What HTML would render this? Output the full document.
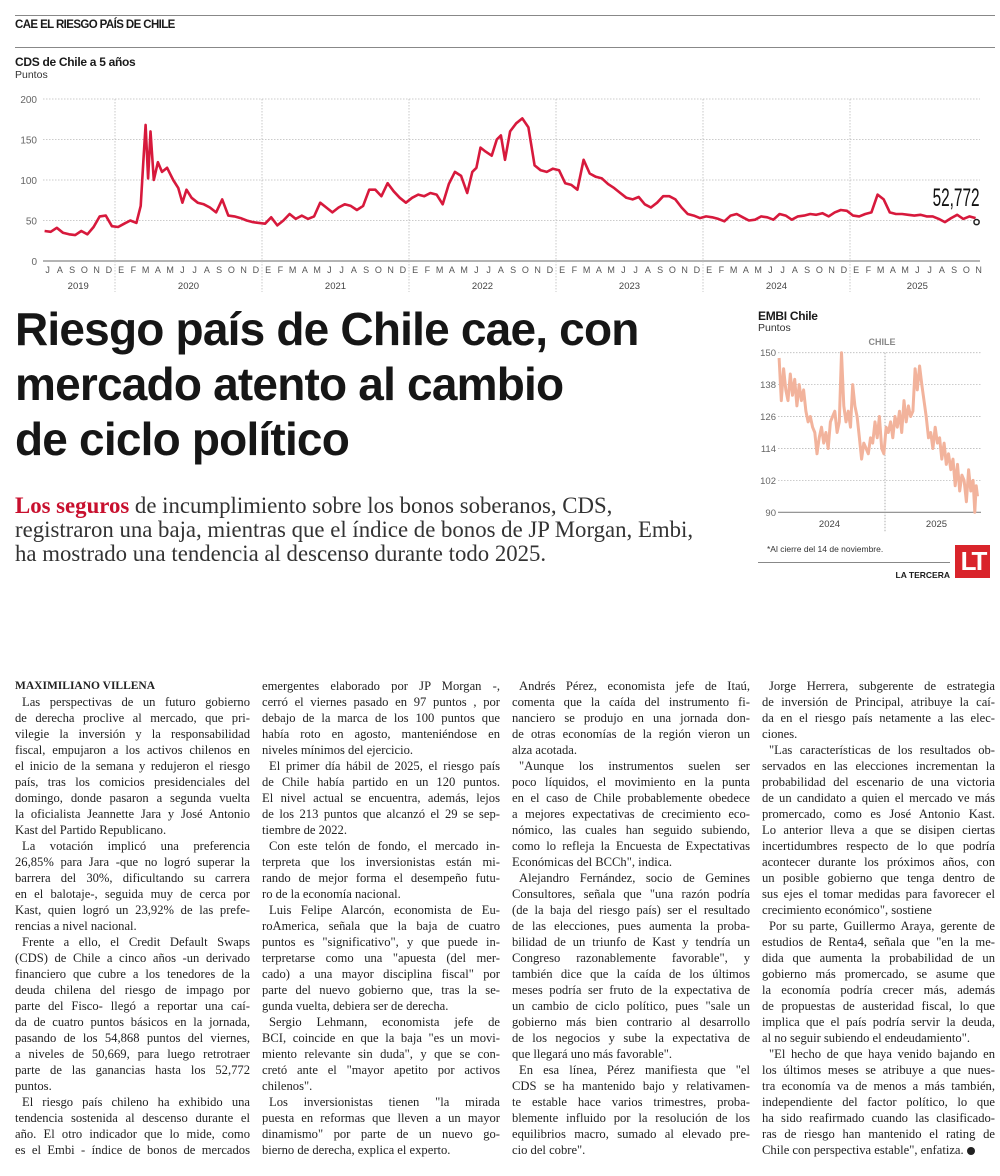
<!DOCTYPE html>
<html><head><meta charset="utf-8">
<style>
body{margin:0;background:#fff;}
#page{position:relative;width:1000px;height:1176px;overflow:hidden;background:#fff;font-family:"Liberation Sans",sans-serif;color:#1a1a1a;}
.abs{position:absolute;}
.col{position:absolute;top:678px;font-family:"Liberation Serif",serif;font-size:12.6px;line-height:16px;color:#222;}
.col div{white-space:nowrap;text-align:justify;text-align-last:justify;}
.col div.e{text-align-last:left;}
.col div.i{text-indent:7px;}
</style></head><body>
<div id="page">
<div class="abs" style="left:15px;top:15px;width:980px;border-top:1px solid #888;"></div>
<div class="abs" style="left:15px;top:19px;font-size:11.5px;font-weight:bold;letter-spacing:-0.6px;">CAE EL RIESGO PAÍS DE CHILE</div>
<div class="abs" style="left:15px;top:47px;width:980px;border-top:1px solid #888;"></div>
<div class="abs" style="left:15px;top:55px;font-size:12px;font-weight:bold;letter-spacing:-0.3px;">CDS de Chile a 5 años</div>
<div class="abs" style="left:15px;top:69px;font-size:10.5px;color:#333;">Puntos</div>

<svg class="abs" id="cds" style="left:0;top:0" width="1000" height="300"></svg>

<div class="abs" style="left:15px;top:302px;font-size:46px;line-height:55px;font-weight:bold;letter-spacing:-0.8px;transform:scaleX(1.0);transform-origin:0 0;white-space:nowrap;color:#161616;">Riesgo país de Chile cae, con<br>mercado atento al cambio<br>de ciclo político</div>

<div class="abs" style="left:15px;top:494px;width:700px;font-family:'Liberation Serif',serif;font-size:22.8px;line-height:24px;color:#333;white-space:nowrap;"><b style="color:#c8102e">Los seguros</b> de incumplimiento sobre los bonos soberanos, CDS,<br>registraron una baja, mientras que el índice de bonos de JP Morgan, Embi,<br>ha mostrado una tendencia al descenso durante todo 2025.</div>

<div class="abs" style="left:758px;top:309px;font-size:12px;font-weight:bold;letter-spacing:-0.3px;">EMBI Chile</div>
<div class="abs" style="left:758px;top:322px;font-size:10.5px;color:#333;">Puntos</div>
<svg class="abs" id="embi" style="left:0;top:0" width="1000" height="600"></svg>
<div class="abs" style="left:767px;top:544px;font-size:8.5px;color:#333;">*Al cierre del 14 de noviembre.</div>
<div class="abs" style="left:758px;top:562px;width:192px;border-top:1px solid #888;"></div>
<div class="abs" style="left:870px;top:570px;width:80px;text-align:right;font-size:8.5px;font-weight:bold;">LA TERCERA</div>
<div class="abs" style="left:955px;top:545px;width:35px;height:33px;background:#d9242b;color:#fff;font-size:26px;font-weight:bold;line-height:33px;text-align:center;letter-spacing:-3px;">LT</div>

<div class="col" style="left:15px;width:235px;">
<div class="e" style="font-weight:bold;font-size:11.5px;">MAXIMILIANO VILLENA</div>
<div class="i">Las perspectivas de un futuro gobierno</div>
<div>de derecha proclive al mercado, que pri-</div>
<div>vilegie la inversión y la responsabilidad</div>
<div>fiscal, empujaron a los activos chilenos en</div>
<div>el inicio de la semana y redujeron el riesgo</div>
<div>país, tras los comicios presidenciales del</div>
<div>domingo, donde pasaron a segunda vuelta</div>
<div>la oficialista Jeannette Jara y José Antonio</div>
<div class="e">Kast del Partido Republicano.</div>
<div class="i">La votación implicó una preferencia</div>
<div>26,85% para Jara -que no logró superar la</div>
<div>barrera del 30%, dificultando su carrera</div>
<div>en el balotaje-, seguida muy de cerca por</div>
<div>Kast, quien logró un 23,92% de las prefe-</div>
<div class="e">rencias a nivel nacional.</div>
<div class="i">Frente a ello, el Credit Default Swaps</div>
<div>(CDS) de Chile a cinco años -un derivado</div>
<div>financiero que cubre a los tenedores de la</div>
<div>deuda chilena del riesgo de impago por</div>
<div>parte del Fisco- llegó a reportar una caí-</div>
<div>da de cuatro puntos básicos en la jornada,</div>
<div>pasando de los 54,868 puntos del viernes,</div>
<div>a niveles de 50,669, para luego retrotraer</div>
<div>parte de las ganancias hasta los 52,772</div>
<div class="e">puntos.</div>
<div class="i">El riesgo país chileno ha exhibido una</div>
<div>tendencia sostenida al descenso durante el</div>
<div>año. El otro indicador que lo mide, como</div>
<div>es el Embi - índice de bonos de mercados</div>
</div>

<div class="col" style="left:262px;width:238px;">
<div>emergentes elaborado por JP Morgan -,</div>
<div>cerró el viernes pasado en 97 puntos , por</div>
<div>debajo de la marca de los 100 puntos que</div>
<div>había roto en agosto, manteniéndose en</div>
<div class="e">niveles mínimos del ejercicio.</div>
<div class="i">El primer día hábil de 2025, el riesgo país</div>
<div>de Chile había partido en un 120 puntos.</div>
<div>El nivel actual se encuentra, además, lejos</div>
<div>de los 213 puntos que alcanzó el 29 se sep-</div>
<div class="e">tiembre de 2022.</div>
<div class="i">Con este telón de fondo, el mercado in-</div>
<div>terpreta que los inversionistas están mi-</div>
<div>rando de mejor forma el desempeño futu-</div>
<div class="e">ro de la economía nacional.</div>
<div class="i">Luis Felipe Alarcón, economista de Eu-</div>
<div>roAmerica, señala que la baja de cuatro</div>
<div>puntos es "significativo", y que puede in-</div>
<div>terpretarse como una "apuesta (del mer-</div>
<div>cado) a una mayor disciplina fiscal" por</div>
<div>parte del nuevo gobierno que, tras la se-</div>
<div class="e">gunda vuelta, debiera ser de derecha.</div>
<div class="i">Sergio Lehmann, economista jefe de</div>
<div>BCI, coincide en que la baja "es un movi-</div>
<div>miento relevante sin duda", y que se con-</div>
<div>cretó ante el "mayor apetito por activos</div>
<div class="e">chilenos".</div>
<div class="i">Los inversionistas tienen "la mirada</div>
<div>puesta en reformas que lleven a un mayor</div>
<div>dinamismo" por parte de un nuevo go-</div>
<div class="e">bierno de derecha, explica el experto.</div>
</div>

<div class="col" style="left:512px;width:238px;">
<div class="i">Andrés Pérez, economista jefe de Itaú,</div>
<div>comenta que la caída del instrumento fi-</div>
<div>nanciero se produjo en una jornada don-</div>
<div>de otras economías de la región vieron un</div>
<div class="e">alza acotada.</div>
<div class="i">"Aunque los instrumentos suelen ser</div>
<div>poco líquidos, el movimiento en la punta</div>
<div>en el caso de Chile probablemente obedece</div>
<div>a mejores expectativas de crecimiento eco-</div>
<div>nómico, las cuales han seguido subiendo,</div>
<div>como lo refleja la Encuesta de Expectativas</div>
<div class="e">Económicas del BCCh", indica.</div>
<div class="i">Alejandro Fernández, socio de Gemines</div>
<div>Consultores, señala que "una razón podría</div>
<div>(de la baja del riesgo país) ser el resultado</div>
<div>de las elecciones, pues aumenta la proba-</div>
<div>bilidad de un triunfo de Kast y tendría un</div>
<div>Congreso razonablemente favorable", y</div>
<div>también dice que la caída de los últimos</div>
<div>meses podría ser fruto de la expectativa de</div>
<div>un cambio de ciclo político, pues "sale un</div>
<div>gobierno más bien contrario al desarrollo</div>
<div>de los negocios y sube la expectativa de</div>
<div class="e">que llegará uno más favorable".</div>
<div class="i">En esa línea, Pérez manifiesta que "el</div>
<div>CDS se ha mantenido bajo y relativamen-</div>
<div>te estable hace varios trimestres, proba-</div>
<div>blemente influido por la resolución de los</div>
<div>equilibrios macro, sumado al elevado pre-</div>
<div class="e">cio del cobre".</div>
</div>

<div class="col" style="left:762px;width:233px;">
<div class="i">Jorge Herrera, subgerente de estrategia</div>
<div>de inversión de Principal, atribuye la caí-</div>
<div>da en el riesgo país netamente a las elec-</div>
<div class="e">ciones.</div>
<div class="i">"Las características de los resultados ob-</div>
<div>servados en las elecciones incrementan la</div>
<div>probabilidad del escenario de una victoria</div>
<div>de un candidato a quien el mercado ve más</div>
<div>promercado, como es José Antonio Kast.</div>
<div>Lo anterior lleva a que se disipen ciertas</div>
<div>incertidumbres respecto de lo que podría</div>
<div>acontecer durante los próximos años, con</div>
<div>un posible gobierno que tenga dentro de</div>
<div>sus ejes el tomar medidas para favorecer el</div>
<div class="e">crecimiento económico", sostiene</div>
<div class="i">Por su parte, Guillermo Araya, gerente de</div>
<div>estudios de Renta4, señala que "en la me-</div>
<div>dida que aumenta la probabilidad de un</div>
<div>gobierno más promercado, se asume que</div>
<div>la economía podría crecer más, además</div>
<div>de propuestas de austeridad fiscal, lo que</div>
<div>implica que el país podría servir la deuda,</div>
<div class="e">al no seguir subiendo el endeudamiento".</div>
<div class="i">"El hecho de que haya venido bajando en</div>
<div>los últimos meses se atribuye a que nues-</div>
<div>tra economía va de menos a más también,</div>
<div>independiente del factor político, lo que</div>
<div>ha sido reafirmado cuando las clasificado-</div>
<div>ras de riesgo han mantenido el rating de</div>
<div class="e">Chile con perspectiva estable", enfatiza. <span style="display:inline-block;width:8px;height:8px;border-radius:50%;background:#222;vertical-align:-1px;"></span></div>
</div>
</div>

<script>
// ---- CDS chart data ----
const cdsYTicks = [0, 50, 100, 150, 200];
const cdsMonthLabels = ["J","A","S","O","N","D","E","F","M","A","M","J","J","A","S","O","N","D","E","F","M","A","M","J","J","A","S","O","N","D","E","F","M","A","M","J","J","A","S","O","N","D","E","F","M","A","M","J","J","A","S","O","N","D","E","F","M","A","M","J","J","A","S","O","N","D","E","F","M","A","M","J","J","A","S","O","N"];
const cdsYears = ["2019","2020","2021","2022","2023","2024","2025"];
const cdsMonthly = [[37,36],[41,35],[33,32],[37,33],[42,55],[56,43],[42,46],[50,47],[68,120,168,102,160],[100,122,110],[115,100],[90,72,88],[78,72],[70,66],[60,76],[56,55],[53,50],[48,47],[46,54],[44,50],[58,52],[56,52],[55,72],[66,60],[66,70],[68,63],[68,88],[88,80],[96,86],[78,72],[78,82],[80,84],[82,70],[95,110],[105,84],[110,115,140],[135,130],[150,155,125],[160,170],[176,165],[118,112],[110,114],[112,96],[94,88],[125,108],[104,102],[95,90],[84,78],[76,79],[70,66],[72,80],[80,76],[66,58],[56,53],[55,54],[52,49],[56,58],[54,50],[51,55],[54,51],[58,56],[51,55],[56,58],[57,59],[55,60],[63,62],[56,55],[58,60],[82,76],[60,58],[58,57],[56,57],[55,55],[52,48],[53,57],[52,55],[53]];
const cdsLastLabel = "52,772";

// ---- EMBI chart data ----
const embiYTicks = [90, 102, 114, 126, 138, 150];
const embiYears = ["2024","2025"];
const embiMonthly = [[148,132,144,136],[132,142,134,140],[130,138,132,136],[128,124,126,122],[120,112,118,122],[116,120,114,124],[126,128,120,124],[150,130,124,128],[122,138,130,126],[118,110,116,114],[112,118,116,124],[118,126,114,112],[122,120,124,118],[126,122,128,120],[132,124,130,126],[128,144,136,145],[138,132,126,118],[120,114,122,116],[118,110,116,108],[112,106,110,100],[108,98,104,102],[94,106,98,102],[90,100,96]];

const NS = "http://www.w3.org/2000/svg";
function mk(svg, tag, attrs, text){
  const e = document.createElementNS(NS, tag);
  for (const k in attrs) e.setAttribute(k, attrs[k]);
  if (text !== undefined) e.textContent = text;
  svg.appendChild(e); return e;
}

// CDS
(function(){
  const svg = document.getElementById('cds');
  const x0 = 41.5, mw = 12.25, xEnd = 980;
  const xS = t => x0 + t*mw;
  const yS = v => 261 - v*0.81;
  cdsYTicks.forEach(v=>{
    const l = mk(svg,'line',{x1:43,x2:xEnd,y1:yS(v),y2:yS(v),stroke: v===0?'#888':'#bbb','stroke-width':v===0?1.2:0.8,'stroke-dasharray':v===0?'':'1.5,1.5'});
    
    
    const t = mk(svg,'text',{x:37,y:yS(v)+4,'text-anchor':'end','font-size':10,fill:'#666','font-family':'Liberation Sans, sans-serif'}, String(v));
    
    
  });
  for (let i=1;i<cdsYears.length;i++){
    const xx = xS(6 + (i-1)*12);
    const l = mk(svg,'line',{x1:xx,x2:xx,y1:yS(200),y2:292,stroke:'#bbb','stroke-width':0.8,'stroke-dasharray':'1.5,1.5'});
    
    
  }
  cdsMonthLabels.forEach((m,i)=>{
    const t = mk(svg,'text',{x:xS(i+0.5),y:273,'text-anchor':'middle','font-size':9,fill:'#555','font-family':'Liberation Sans, sans-serif'}, m);
    
    
  });
  cdsYears.forEach((y,i)=>{
    const start = i===0 ? 0 : 6 + (i-1)*12;
    const end = Math.min(6 + i*12, cdsMonthLabels.length);
    const t = mk(svg,'text',{x:xS((start+end)/2),y:289,'text-anchor':'middle','font-size':9.5,fill:'#444','font-family':'Liberation Sans, sans-serif'}, y);
    
    
  });
  const pts = [];
  cdsMonthly.forEach((vals,m)=>{
    const span = (m===cdsMonthly.length-1) ? 0.5 : 1;
    vals.forEach((v,j)=>{ pts.push([xS(m + span*(j+0.5)/vals.length), yS(v)]); });
  });
  const p = mk(svg,'polyline',{points:pts.map(q=>q[0].toFixed(1)+','+q[1].toFixed(1)).join(' '),fill:'none',stroke:'#d7193c','stroke-width':2.6,'stroke-linejoin':'round'});
  
  
  const last = pts[pts.length-1];
  const c = mk(svg,'circle',{cx:last[0]+1,cy:last[1]+4,r:2.6,fill:'#fff',stroke:'#222','stroke-width':1.5});
  
  
  const lt = mk(svg,'text',{x:last[0]+4,y:last[1]-12,'text-anchor':'end','font-size':25,fill:'#111','font-family':'Liberation Sans Narrow, Liberation Sans, sans-serif',textLength:47,lengthAdjust:'spacingAndGlyphs'}, cdsLastLabel);
  
  
})();

// EMBI
(function(){
  const svg = document.getElementById('embi');
  const x0 = 778, mw = 8.917, xEnd = 981;
  const xS = t => x0 + t*mw;
  const yS = v => 512.3 - (v-90)*2.66;
  embiYTicks.forEach(v=>{
    const l = mk(svg,'line',{x1:778,x2:xEnd,y1:yS(v),y2:yS(v),stroke:v===90?'#888':'#bbb','stroke-width':v===90?1.2:0.8,'stroke-dasharray':v===90?'':'1.5,1.5'});
    
    
    const t = mk(svg,'text',{x:776,y:yS(v)+3.5,'text-anchor':'end','font-size':9.5,fill:'#666','font-family':'Liberation Sans, sans-serif'}, String(v));
    
    
  });
  const dv = mk(svg,'line',{x1:xS(12),x2:xS(12),y1:yS(150),y2:532,stroke:'#999','stroke-width':0.8,'stroke-dasharray':'1.5,1.5'});
  
  
  const ct = mk(svg,'text',{x:xS(12)-3,y:345,'text-anchor':'middle','font-size':9,'font-weight':'bold',fill:'#888','font-family':'Liberation Sans, sans-serif'}, 'CHILE');
  
  
  embiYears.forEach((y,i)=>{
    const t = mk(svg,'text',{x:xS(i*12+6)-2,y:527,'text-anchor':'middle','font-size':9.5,fill:'#444','font-family':'Liberation Sans, sans-serif'}, y);
    
    
  });
  const pts = [];
  embiMonthly.forEach((vals,m)=>{
    const span = (m===embiMonthly.length-1) ? 0.45 : 1;
    vals.forEach((v,j)=>{ pts.push([xS(m + span*(j+0.5)/vals.length), yS(v)]); });
  });
  const p = mk(svg,'polyline',{points:pts.map(q=>q[0].toFixed(1)+','+q[1].toFixed(1)).join(' '),fill:'none',stroke:'#f2b39c','stroke-width':3,'stroke-linejoin':'round'});
  
  
})();
</script>
</body></html>
